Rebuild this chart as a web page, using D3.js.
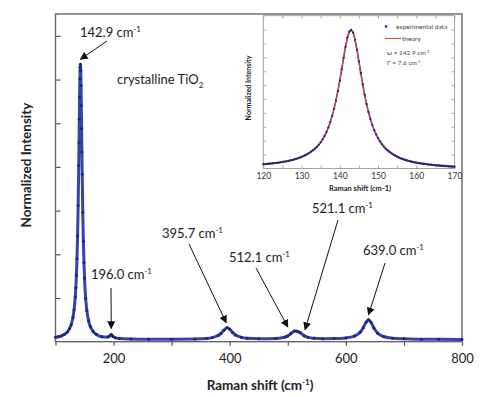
<!DOCTYPE html>
<html><head><meta charset="utf-8">
<script src="https://cdn.jsdelivr.net/npm/d3@7"></script>
<style>body{margin:0;background:#fff}svg{display:block}text{font-family:Lato,"Open Sans",sans-serif}</style>
</head><body><svg id="c" width="500" height="397"></svg>
<script>
// ---- main spectrum ----
const mainX = [100,105,110,115,120,124,127,130,132,134,135,136,137,138,139,140,140.5,141,141.5,142,142.5,142.9,143.5,144,144.5,145,145.5,146,147,148,149,150,152,154,157,160,165,170,180,190,193,196,199,203,210,230,260,300,340,360,370,380,385,390,395.7,400,405,410,420,430,450,480,495,500,505,512,516,521,528,535,545,560,580,600,615,625,630,635,639,643,648,655,665,680,700,730,760,800];
const mainY = [0.099,0.113,0.133,0.165,0.219,0.295,0.390,0.553,0.733,1.022,1.234,1.517,1.898,2.417,3.119,4.033,4.555,5.092,5.599,6.017,6.283,6.350,6.199,5.865,5.403,4.878,4.342,3.834,2.962,2.300,1.812,1.453,0.986,0.711,0.477,0.347,0.231,0.172,0.115,0.108,0.128,0.165,0.120,0.088,0.075,0.063,0.058,0.057,0.062,0.075,0.094,0.140,0.190,0.264,0.321,0.287,0.209,0.153,0.100,0.079,0.068,0.075,0.105,0.133,0.181,0.245,0.240,0.208,0.139,0.099,0.079,0.070,0.071,0.087,0.130,0.223,0.321,0.449,0.501,0.449,0.321,0.195,0.119,0.081,0.065,0.057,0.054,0.052];
const xTicksMain = [100,200,300,400,500,600,700,800];
const xLabelsMain = [200,400,600,800];
const yTicksMain = [1,2,3,4,5,6,7];
const peakLabels = ["142.9","196.0","395.7","512.1","521.1","639.0"];
const peakPos = [142.9,196.0,395.7,512.1,521.1,639.0];

// ---- inset ----
const insetX = d3.range(120, 170.01, 0.5);
const expY = [0.031,0.032,0.033,0.035,0.036,0.038,0.039,0.041,0.043,0.045,0.047,0.050,0.052,0.055,0.058,0.061,0.065,0.069,0.073,0.078,0.084,0.090,0.097,0.104,0.112,0.122,0.132,0.143,0.156,0.171,0.189,0.210,0.233,0.262,0.295,0.334,0.379,0.430,0.490,0.557,0.633,0.714,0.797,0.876,0.943,0.985,0.998,0.978,0.926,0.855,0.772,0.688,0.606,0.531,0.464,0.406,0.356,0.313,0.276,0.245,0.218,0.195,0.175,0.158,0.143,0.130,0.119,0.109,0.100,0.092,0.085,0.078,0.072,0.067,0.062,0.058,0.054,0.051,0.047,0.044,0.042,0.039,0.037,0.035,0.033,0.031,0.029,0.027,0.026,0.024,0.023,0.022,0.020,0.019,0.018,0.017,0.016,0.015,0.014,0.013,0.012];
const theoryY = [0.0268,0.0280,0.0292,0.0306,0.0320,0.0335,0.0352,0.0369,0.0389,0.0409,0.0431,0.0455,0.0481,0.0510,0.0540,0.0574,0.0611,0.0651,0.0695,0.0744,0.0798,0.0858,0.0925,0.1000,0.1084,0.1178,0.1284,0.1405,0.1542,0.1699,0.1879,0.2087,0.2327,0.2606,0.2932,0.3312,0.3756,0.4272,0.4870,0.5554,0.6320,0.7149,0.8000,0.8805,0.9469,0.9890,0.9993,0.9757,0.9227,0.8494,0.7660,0.6811,0.6004,0.5270,0.4621,0.4056,0.3570,0.3153,0.2796,0.2490,0.2227,0.2000,0.1804,0.1633,0.1485,0.1355,0.1240,0.1139,0.1049,0.0969,0.0898,0.0834,0.0776,0.0724,0.0677,0.0634,0.0596,0.0560,0.0528,0.0498,0.0471,0.0445,0.0422,0.0401,0.0381,0.0362,0.0345,0.0329,0.0314,0.0300,0.0287,0.0275,0.0263,0.0253,0.0243,0.0233,0.0224,0.0216,0.0208,0.0200,0.0193];
const insetXTicks = [120,125,130,135,140,145,150,155,160,165,170];
const insetXLabels = [120,130,140,150,160,170];
const insetYTicks = [0.1,0.2,0.3,0.4,0.5,0.6,0.7,0.8,0.9,1.0];

const svg = d3.select("#c");
const BLUE = "#3444a8", NAVY = "#1c2475", RED = "#e8463c";

// ---- main chart ----
const L = 55.5, R = 462, T = 14, B = 341.7;
const x = d3.scaleLinear().domain([100, 800]).range([L, R]);
const y = d3.scaleLinear().domain([0, 7.5]).range([B, T]);

svg.append("defs").append("marker").attr("id","arr").attr("viewBox","0 0 10 10")
  .attr("refX",9).attr("refY",5).attr("markerWidth",8).attr("markerHeight",8)
  .attr("markerUnits","userSpaceOnUse").attr("orient","auto")
  .append("path").attr("d","M0,0 L10,5 L0,10 Z").attr("fill","#111");

const gx = svg.append("g").attr("transform",`translate(0,${B})`)
  .call(d3.axisBottom(x).tickValues(xTicksMain).tickSize(4).tickPadding(8)
    .tickFormat(d => xLabelsMain.includes(d) ? d : ""));
gx.select(".domain").remove();
gx.selectAll("line").attr("stroke","#555").attr("stroke-width",1.2);
gx.selectAll("text").attr("font-size",13).attr("fill","#222");

const gy = svg.append("g").attr("transform",`translate(${L},0)`)
  .call(d3.axisLeft(y).tickValues(yTicksMain).tickSize(-5).tickFormat(""));
gy.select(".domain").remove();
gy.selectAll("line").attr("stroke","#555").attr("stroke-width",1.2);

svg.append("rect").attr("x",L).attr("y",T).attr("width",R-L).attr("height",B-T)
  .attr("fill","none").attr("stroke","#666").attr("stroke-width",1.4);

const mainData = mainX.map((v,i)=>[v, mainY[i]]);
svg.append("path").datum(mainData)
  .attr("d", d3.line().x(d=>x(d[0])).y(d=>y(d[1])).curve(d3.curveMonotoneX))
  .attr("fill","none").attr("stroke",BLUE).attr("stroke-width",3);
svg.append("g").selectAll("circle").data(mainData).join("circle")
  .attr("cx",d=>x(d[0])).attr("cy",d=>y(d[1])).attr("r",1.5).attr("fill",NAVY);

function label(txt, tx, ty, size) {
  const t = svg.append("text").attr("x",tx).attr("y",ty).attr("font-size",size).attr("fill","#222");
  t.append("tspan").text(txt + " cm");
  t.append("tspan").attr("dy",-5).attr("font-size",size*0.6).text("-1");
  return t;
}
const annTextPos = [[80,37],[91,279],[162,238],[229,262],[312,213],[363,255]];
const annArrowStart = [[107,41],[111,288],[189,244],[256,268],[338,220],[385,263]];
const annTipOffset = [[0,-3],[0,-4],[-1,-3],[-7,-2],[5,-1],[0,-3]];
peakLabels.forEach((lab,i) => {
  label(lab, annTextPos[i][0], annTextPos[i][1], 13);
  const px = peakPos[i];
  let best = mainData.reduce((a,b)=>Math.abs(b[0]-px)<Math.abs(a[0]-px)?b:a);
  const tipX = x(px) + annTipOffset[i][0];
  const tipY = y(best[1]) + annTipOffset[i][1] - 2;
  svg.append("line").attr("x1",annArrowStart[i][0]).attr("y1",annArrowStart[i][1])
    .attr("x2",tipX).attr("y2",tipY).attr("stroke","#111").attr("stroke-width",1)
    .attr("marker-end","url(#arr)");
});

const ct = svg.append("text").attr("x",117).attr("y",84).attr("font-size",13).attr("fill","#222");
ct.append("tspan").text("crystalline TiO");
ct.append("tspan").attr("dy",4).attr("font-size",8).text("2");

svg.append("text").attr("transform","translate(31,165) rotate(-90)").attr("text-anchor","middle")
  .attr("font-size",13.5).attr("font-weight","bold").attr("fill","#222").text("Normalized Intensity");
const xt = svg.append("text").attr("x",260).attr("y",390).attr("text-anchor","middle")
  .attr("font-size",13.5).attr("font-weight","bold").attr("fill","#222");
xt.append("tspan").text("Raman shift (cm");
xt.append("tspan").attr("dy",-5).attr("font-size",8).text("-1");
xt.append("tspan").attr("dy",5).text(")");

// ---- inset ----
const iL = 263.3, iR = 454.5, iT = 15.7, iB = 168.5;
const ix = d3.scaleLinear().domain([120,170]).range([iL,iR]);
const iy = d3.scaleLinear().domain([0,1.1]).range([iB,iT]);

const ixb = svg.append("g").attr("transform",`translate(0,${iB})`)
  .call(d3.axisBottom(ix).tickValues(insetXTicks).tickSize(-3).tickPadding(4)
    .tickFormat(d => insetXLabels.includes(d) ? d : ""));
const ixt = svg.append("g").attr("transform",`translate(0,${iT})`)
  .call(d3.axisTop(ix).tickValues(insetXTicks).tickSize(-3).tickFormat(""));
const iyl = svg.append("g").attr("transform",`translate(${iL},0)`)
  .call(d3.axisLeft(iy).tickValues(insetYTicks).tickSize(-3).tickFormat(""));
const iyr = svg.append("g").attr("transform",`translate(${iR},0)`)
  .call(d3.axisRight(iy).tickValues(insetYTicks).tickSize(-3).tickFormat(""));
[ixb,ixt,iyl,iyr].forEach(g=>{ g.select(".domain").remove(); g.selectAll("line").attr("stroke","#999").attr("stroke-width",0.8); });
ixb.selectAll("text").attr("font-size",8.5).attr("fill","#333");
svg.append("rect").attr("x",iL).attr("y",iT).attr("width",iR-iL).attr("height",iB-iT)
  .attr("fill","none").attr("stroke","#999").attr("stroke-width",0.9);

const expData = insetX.map((v,i)=>[v, expY[i]]);
const thData = insetX.map((v,i)=>[v, theoryY[i]]);
svg.append("path").datum(expData)
  .attr("d", d3.line().x(d=>ix(d[0])).y(d=>iy(d[1])))
  .attr("fill","none").attr("stroke","#3a3fa0").attr("stroke-width",1.6);
svg.append("path").datum(thData)
  .attr("d", d3.line().x(d=>ix(d[0])).y(d=>iy(d[1])).curve(d3.curveMonotoneX))
  .attr("fill","none").attr("stroke",RED).attr("stroke-width",1.1);
svg.append("g").selectAll("circle").data(expData).join("circle")
  .attr("cx",d=>ix(d[0])).attr("cy",d=>iy(d[1])).attr("r",1.1).attr("fill",NAVY);

svg.append("text").attr("transform","translate(251,88) rotate(-90)").attr("text-anchor","middle")
  .attr("font-size",7).attr("font-weight","bold").attr("fill","#222").text("Normalized Intensity");
svg.append("text").attr("x",360).attr("y",191).attr("text-anchor","middle")
  .attr("font-size",7.5).attr("font-weight","bold").attr("fill","#222").text("Raman shift (cm-1)");

svg.append("circle").attr("cx",386).attr("cy",26.5).attr("r",1.3).attr("fill",NAVY);
svg.append("text").attr("x",396).attr("y",29).attr("font-size",6.5).attr("fill","#444").text("experimental data");
svg.append("line").attr("x1",385).attr("x2",401).attr("y1",38.5).attr("y2",38.5).attr("stroke",RED).attr("stroke-width",1.1);
svg.append("text").attr("x",402).attr("y",41).attr("font-size",6.5).attr("fill","#444").text("theory");
const w1 = svg.append("text").attr("x",387).attr("y",55).attr("font-size",6.5).attr("fill","#444");
w1.append("tspan").text("ω = 142.9 cm");
w1.append("tspan").attr("dy",-2.5).attr("font-size",4).text("-1");
const w2 = svg.append("text").attr("x",387).attr("y",65).attr("font-size",6.5).attr("fill","#444");
w2.append("tspan").text("Γ = 7.6 cm");
w2.append("tspan").attr("dy",-2.5).attr("font-size",4).text("-1");
</script></body></html>
